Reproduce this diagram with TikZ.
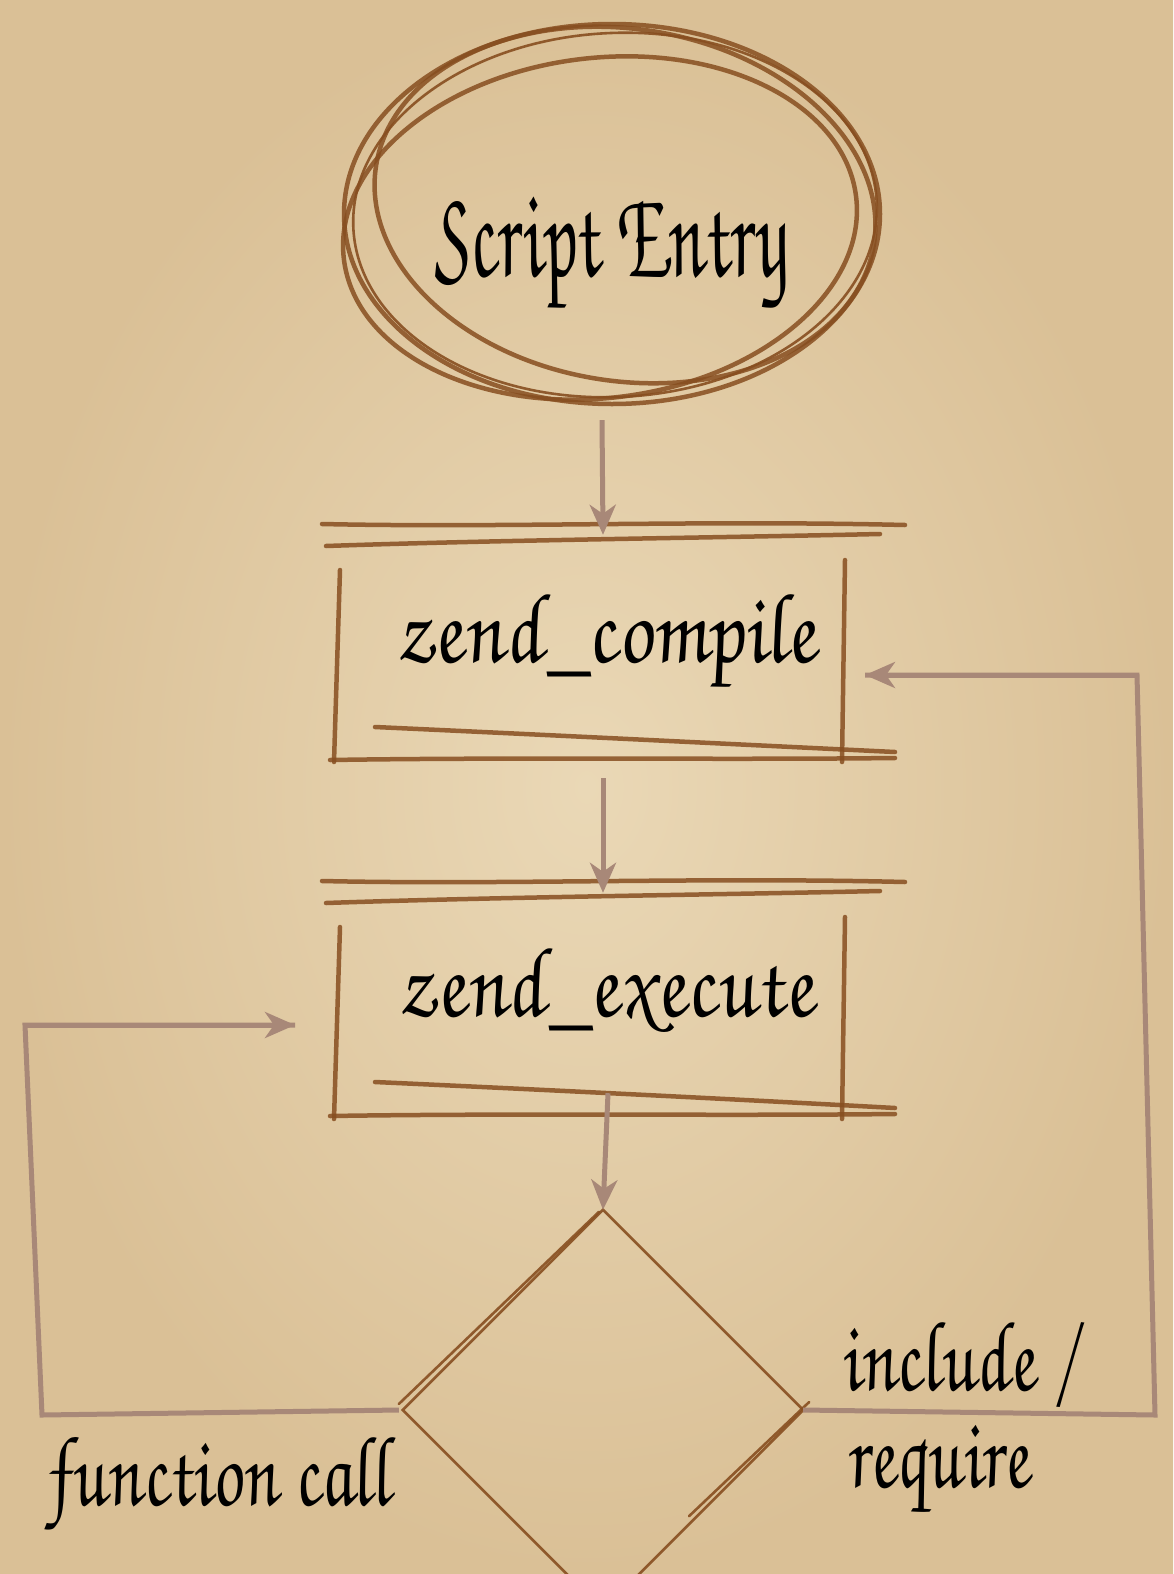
\documentclass[tikz,border=0pt]{standalone}
\usepackage{fontspec}
\newfontfamily\handT[FakeStretch=0.62,FakeSlant=-0.16]{texgyrechorus-mediumitalic.otf}
\newfontfamily\handB[FakeStretch=0.88,FakeSlant=-0.16]{texgyrechorus-mediumitalic.otf}
\newfontfamily\handL[FakeStretch=0.77,FakeSlant=-0.16]{texgyrechorus-mediumitalic.otf}
\usetikzlibrary{shapes.geometric,arrows.meta,calc}
\definecolor{paperedge}{RGB}{218,192,150}
\definecolor{paperin}{RGB}{234,216,182}
\definecolor{pencil}{RGB}{135,78,32}
\definecolor{conncol}{RGB}{168,136,120}
\tikzset{
  pencilline/.style={draw=pencil, line width=4.5pt, line cap=round, opacity=0.85},
  thinpencil/.style={draw=pencil, line width=2.6pt, line cap=round, opacity=0.9},
  conn/.style={draw=conncol, line width=5pt, -{Stealth[length=30pt,width=26pt,inset=9pt]}},
  title/.style={font=\handT\fontsize{128}{128}\selectfont, text=black, anchor=base},
  boxtxt/.style={font=\handB\fontsize{100}{100}\selectfont, text=black, anchor=base},
  lbl/.style={font=\handL\fontsize{100}{100}\selectfont, text=black, anchor=base west},
}
\begin{document}
\begin{tikzpicture}[x=1pt,y=-1pt]
\useasboundingbox (0,0) rectangle (1173,1574);
\shade[inner color=paperin, outer color=paperedge] (0,0) rectangle (1173,1574);

% start ellipse
\node[ellipse, minimum width=520pt, minimum height=380pt, inner sep=0pt] (entry) at (602,215) {};
\draw[pencilline] (612,214) ellipse [x radius=268, y radius=190];
\draw[pencilline, rotate around={-9:(625,205)}] (625,205) ellipse [x radius=252, y radius=176];
\draw[pencilline, rotate around={7:(600,228)}] (600,228) ellipse [x radius=258, y radius=170];
\draw[thinpencil, rotate around={3:(615,215)}] (615,215) ellipse [x radius=262, y radius=182];
\node[title] (entrytxt) at (612,276) {Script Entry};

% zend_compile box
\node[minimum width=510pt, minimum height=220pt, inner sep=0pt] (compile) at (603,645) {};
\draw[pencilline] (322,524) .. controls (500,528) and (700,520) .. (905,525);
\draw[pencilline] (326,546) .. controls (500,540) and (700,538) .. (880,534);
\draw[pencilline] (340,570) -- (334,762);
\draw[pencilline] (845,560) -- (842,762);
\draw[pencilline] (375,727) .. controls (550,735) and (750,745) .. (895,752);
\draw[pencilline] (330,760) .. controls (520,757) and (720,760) .. (895,758);
\node[boxtxt] (compiletxt) at (608,662) {zend\_compile};

% zend_execute box
\node[minimum width=510pt, minimum height=220pt, inner sep=0pt] (execute) at (603,1003) {};
\draw[pencilline] (322,881) .. controls (500,885) and (700,877) .. (905,882);
\draw[pencilline] (326,903) .. controls (500,897) and (700,895) .. (880,891);
\draw[pencilline] (340,927) -- (334,1119);
\draw[pencilline] (845,917) -- (842,1119);
\draw[pencilline] (375,1082) .. controls (550,1090) and (750,1100) .. (895,1108);
\draw[pencilline] (330,1116) .. controls (520,1113) and (720,1116) .. (895,1114);
\node[boxtxt] (executetxt) at (608,1016) {zend\_execute};

% decision diamond
\node[diamond, aspect=1, minimum width=400pt, minimum height=400pt, inner sep=0pt] (dec) at (603,1410) {};
\draw[thinpencil] (dec.north) -- (dec.east) -- (dec.south) -- (dec.west) -- cycle;
\draw[thinpencil] ([xshift=-4pt,yshift=-2pt]dec.north) -- ($(dec.west)+(-4,-6)$);
\draw[thinpencil] ($(dec.east)+(6,-8)$) -- ($(dec.east)!0.55!(dec.south)+(-4,-4)$);

% connectors
\coordinate (l1) at (42,1415);
\coordinate (l2) at (25,1025);
\coordinate (lt) at (295,1025);
\coordinate (r1) at (1155,1415);
\coordinate (r2) at (1137,675);
\coordinate (rt) at (865,675);
\draw[conn] ([yshift=-15pt]entry.south) -- (compile.north);
\draw[conn] ([yshift=-23pt]compile.south) -- (execute.north);
\draw[conn] ([yshift=20pt,xshift=5pt]execute.south) -- (dec.north);
\draw[conn, -] ([xshift=-4pt]dec.west) -- (l1) -- (l2) -- (lt);
\draw[conn] (l2) -- (lt);
\draw[conn, -] (dec.east) -- (r1) -- (r2) -- (rt);
\draw[conn] (r2) -- (rt);

% labels
\node[lbl] (fcall) at (45,1505) {function call};
\node[lbl] (inc) at (840,1390) {include /};
\node[lbl] (req) at (845,1487) {require};
\end{tikzpicture}
\end{document}
